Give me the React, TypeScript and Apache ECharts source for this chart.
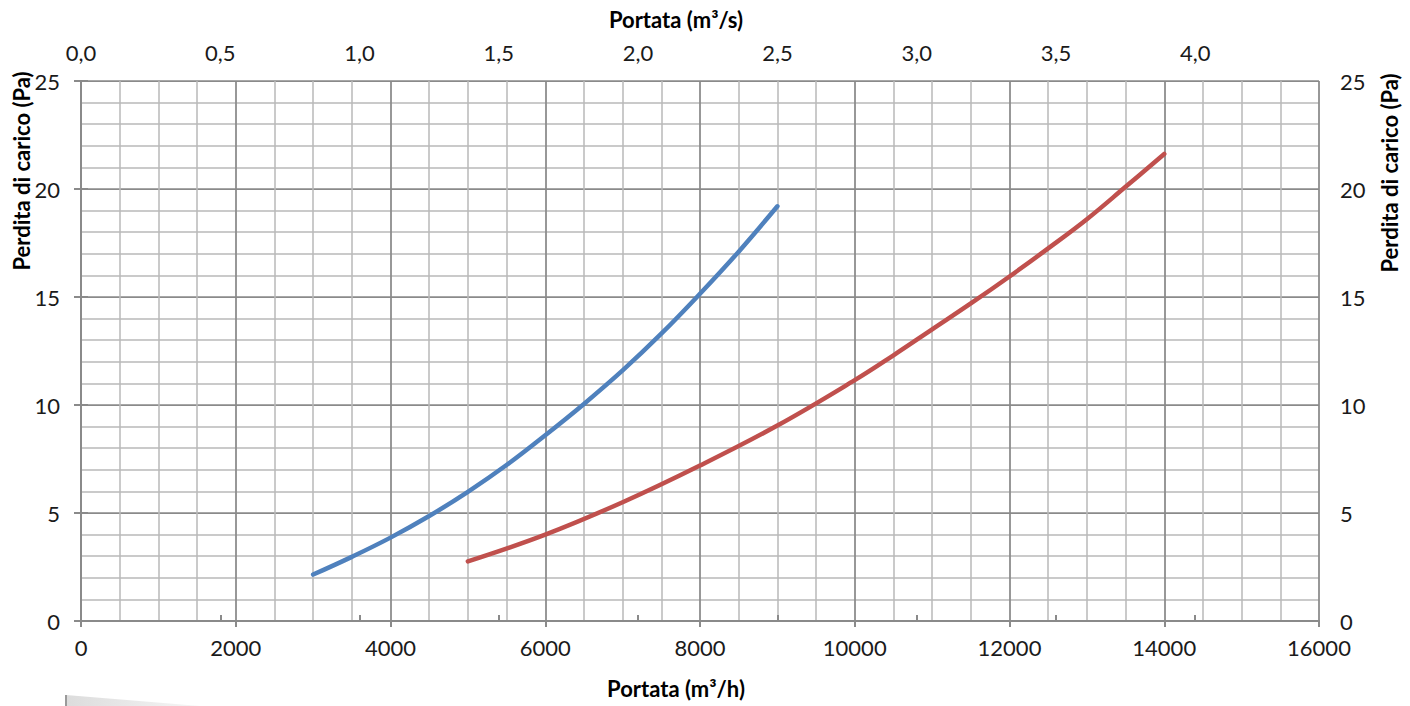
import React, { useEffect, useRef } from "react";
import * as echarts from "echarts";

// Flow rate (m³/h) and pressure drop (Pa) for the two curves
const blueFlow = [3000, 3500, 4000, 4500, 5000, 5500, 6000, 6500, 7000, 7500, 8000, 8500, 9000];
const bluePressure = [2.15, 2.97, 3.86, 4.86, 5.98, 7.22, 8.6, 10.05, 11.6, 13.3, 15.15, 17.1, 19.2];

const redFlow = [5000, 6000, 7000, 8000, 9000, 10000, 10500, 11000, 11500, 12000, 12500, 13000, 13500, 14000];
const redPressure = [2.76, 4.0, 5.5, 7.2, 9.05, 11.15, 12.3, 13.5, 14.7, 15.95, 17.25, 18.6, 20.1, 21.62];

// Axis settings
const flowMax = 16000;
const flowStep = 2000;
const pressureMax = 25;
const pressureStep = 5;
const topTicks = [0, 0.5, 1.0, 1.5, 2.0, 2.5, 3.0, 3.5, 4.0];

const FONT = "Lato, 'Open Sans', sans-serif";
const LABEL_COLOR = "#1a1a1a";
const MAJOR_GRID = "#8a8a8a";
const MINOR_GRID = "#b9b9b9";
const LABEL_SIZE = 22;
const LABEL_LINE = 18;
const TITLE_SIZE = 22;

export default function App() {
  const ref = useRef<HTMLDivElement>(null);

  useEffect(() => {
    if (!ref.current) return;
    const chart = echarts.init(ref.current, undefined, { renderer: "svg" });

    const toPairs = (xs: number[], ys: number[]) => xs.map((x, i) => [x, ys[i]]);

    const titleStyle = {
      fontFamily: FONT,
      fontWeight: "bold",
      fontSize: TITLE_SIZE,
      color: "#000",
      padding: [0, 48, 0, 0],
    };

    const labelBase = {
      fontFamily: FONT,
      fontSize: LABEL_SIZE,
      lineHeight: LABEL_LINE,
      color: LABEL_COLOR,
    };

    const yTitle = (x: number, y: number) => ({
      type: "text",
      x,
      y,
      rotation: Math.PI / 2,
      style: {
        text: "Perdita di carico (Pa)",
        fontFamily: FONT,
        fontWeight: "bold",
        fontSize: TITLE_SIZE,
        fill: "#000",
        align: "center",
        verticalAlign: "middle",
      },
    });

    chart.setOption({
      animation: false,
      backgroundColor: "#ffffff",
      grid: { left: 81, right: 91, top: 81, bottom: 85, containLabel: false },
      xAxis: [
        {
          type: "value",
          position: "bottom",
          min: 0,
          max: flowMax,
          interval: flowStep,
          name: "Portata (m³/h)",
          nameLocation: "middle",
          nameGap: 56,
          nameTextStyle: titleStyle,
          axisLine: { show: true, lineStyle: { color: MAJOR_GRID, width: 2 } },
          axisTick: { show: true, inside: false, length: 6, lineStyle: { color: MAJOR_GRID, width: 2 } },
          axisLabel: {
            ...labelBase,
            margin: 17,
            formatter: (v: number) => String(v),
          },
          splitLine: { show: true, lineStyle: { color: MAJOR_GRID, width: 1.75 } },
          minorTick: { show: false, splitNumber: 4 },
          minorSplitLine: { show: true, lineStyle: { color: MINOR_GRID, width: 1.5 } },
        },
        {
          type: "value",
          position: "top",
          min: 0,
          max: flowMax / 3600,
          name: "Portata (m³/s)",
          nameLocation: "middle",
          nameGap: 51,
          nameTextStyle: titleStyle,
          axisLine: { show: true, lineStyle: { color: MAJOR_GRID, width: 2 } },
          axisTick: {
            show: true,
            inside: false,
            length: 6,
            customValues: topTicks,
            lineStyle: { color: MAJOR_GRID, width: 2 },
          },
          axisLabel: {
            ...labelBase,
            margin: 20,
            customValues: topTicks,
            formatter: (v: number) => v.toFixed(1).replace(".", ","),
          },
          splitLine: { show: false },
        },
      ],
      yAxis: [
        {
          type: "value",
          position: "left",
          min: 0,
          max: pressureMax,
          interval: pressureStep,
          axisLine: { show: true, lineStyle: { color: MAJOR_GRID, width: 2 } },
          axisTick: { show: true, inside: false, length: 7, lineStyle: { color: MAJOR_GRID, width: 2 } },
          axisLabel: { ...labelBase, margin: 21 },
          splitLine: { show: true, lineStyle: { color: MAJOR_GRID, width: 1.75 } },
          minorTick: { show: false, splitNumber: 5 },
          minorSplitLine: { show: true, lineStyle: { color: MINOR_GRID, width: 1.5 } },
        },
        {
          type: "value",
          position: "right",
          min: 0,
          max: pressureMax,
          interval: pressureStep,
          axisLine: { show: true, lineStyle: { color: MAJOR_GRID, width: 2 } },
          axisTick: { show: true, inside: false, length: 7, lineStyle: { color: MAJOR_GRID, width: 2 } },
          axisLabel: { ...labelBase, margin: 21 },
          splitLine: { show: false },
        },
      ],
      series: [
        {
          type: "line",
          xAxisIndex: 0,
          yAxisIndex: 0,
          data: toPairs(blueFlow, bluePressure),
          smooth: 0.4,
          showSymbol: false,
          lineStyle: { color: "#4f81bd", width: 4.5, cap: "round" },
          z: 5,
        },
        {
          type: "line",
          xAxisIndex: 0,
          yAxisIndex: 0,
          data: toPairs(redFlow, redPressure),
          smooth: 0.4,
          showSymbol: false,
          lineStyle: { color: "#c0504d", width: 4.5, cap: "round" },
          z: 5,
        },
      ],
      graphic: [
        yTitle(21, 171),
        yTitle(1389, 173),
        // faint page-corner shading at the lower left
        {
          type: "polygon",
          shape: { points: [[66, 695], [200, 706], [66, 706]] },
          style: {
            fill: new echarts.graphic.LinearGradient(0, 0, 1, 0, [
              { offset: 0, color: "#dcdcdc" },
              { offset: 1, color: "#f6f6f6" },
            ]),
          },
          silent: true,
        },
        {
          type: "line",
          shape: { x1: 66, y1: 695, x2: 66, y2: 706 },
          style: { stroke: "#9a9a9a", lineWidth: 2 },
          silent: true,
        },
      ],
    });

    return () => chart.dispose();
  }, []);

  return (
    <div
      ref={ref}
      style={{ position: "absolute", left: 0, top: 0, width: 1410, height: 706 }}
    />
  );
}
